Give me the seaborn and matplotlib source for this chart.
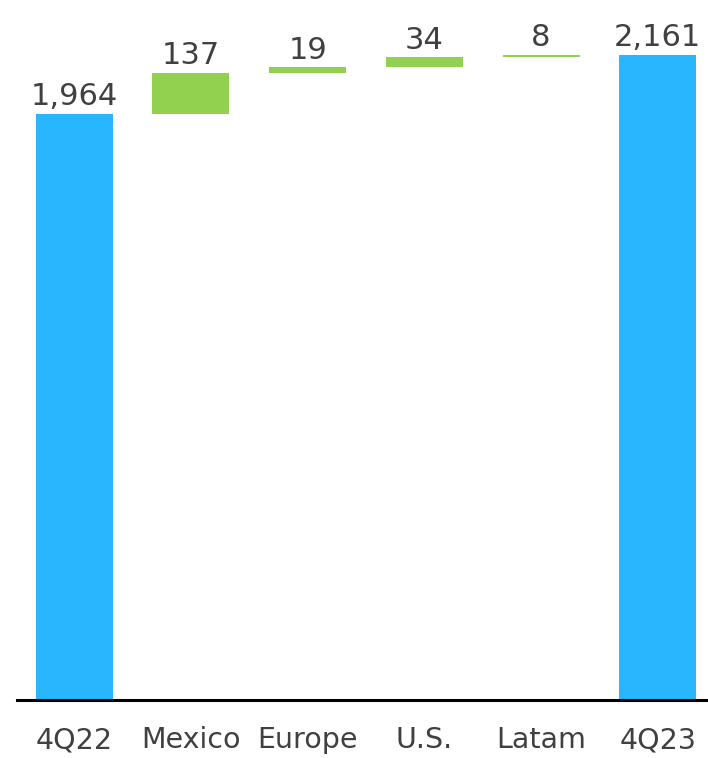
import numpy as np
import matplotlib
matplotlib.use('Agg')
import matplotlib.pyplot as plt
import seaborn as sns

categories = ['4Q22', 'Mexico', 'Europe', 'U.S.', 'Latam', '4Q23']
values = [1964, 137, 19, 34, 8, 2161]
labels = ['1,964', '137', '19', '34', '8', '2,161']
is_total = [True, False, False, False, False, True]

blue = '#29B6FF'
green = '#92D050'

# floating bottoms for the increments
bottoms = []
running = 0
for v, t in zip(values, is_total):
    if t:
        bottoms.append(0)
        running = v
    else:
        bottoms.append(running)
        running += v
tops = [b + v for b, v in zip(bottoms, values)]

sns.set_theme(style='white')
plt.rcParams['font.family'] = ['DejaVu Sans']

fig = plt.figure(figsize=(7.08, 7.58), dpi=100)
ax = fig.add_axes([17 / 708, 58 / 758, 1 - 17 / 708, 700 / 758])

colors = [blue if t else green for t in is_total]
sns.barplot(x=categories, y=tops, hue=categories, palette=colors, legend=False,
            width=0.66, saturation=1, ax=ax)

for p, b, v in zip(ax.patches, bottoms, values):
    p.set_y(b)
    p.set_height(v)
    p.set_edgecolor('none')

for i, (top, lab) in enumerate(zip(tops, labels)):
    ax.annotate(lab, (i, top), xytext=(0, 2), textcoords='offset points',
                ha='center', va='bottom', fontsize=22, color='#404040')

ax.set_xlim(-0.49, 5.43)
ax.set_ylim(0, 2346)
ax.set_yticks([])
ax.set_ylabel('')
ax.tick_params(axis='x', length=0, pad=19, labelsize=20.5, labelcolor='#404040')
for s in ['top', 'left', 'right']:
    ax.spines[s].set_visible(False)
ax.spines['bottom'].set_color('black')
ax.spines['bottom'].set_linewidth(2.2)

fig.savefig('out.png', dpi=100)
